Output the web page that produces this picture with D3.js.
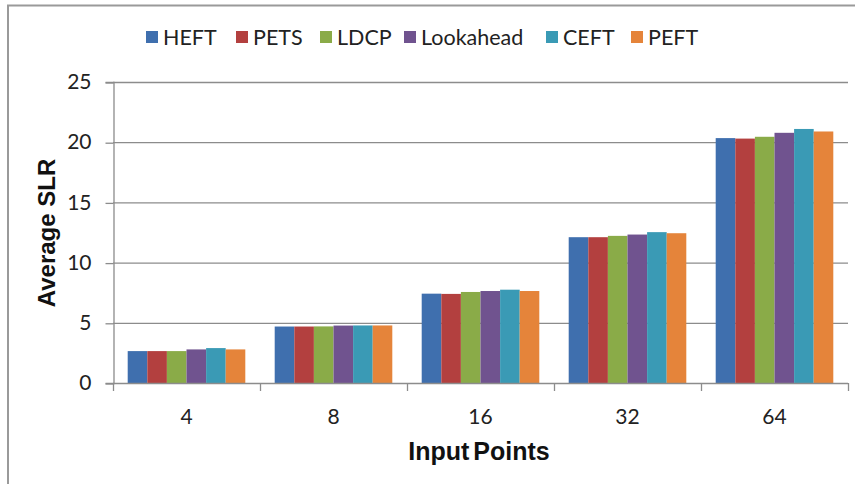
<!DOCTYPE html>
<html>
<head>
<meta charset="utf-8">
<script src="https://cdn.jsdelivr.net/npm/d3@7"></script>
<style>
  html, body { margin: 0; padding: 0; background: #fff; }
  svg { display: block; }
</style>
</head>
<body>
<svg id="chart" width="855" height="484"></svg>
<script>
// Input sizes (x categories)
const categories = ["4", "8", "16", "32", "64"];
// Scheduling algorithms
const seriesNames = ["HEFT", "PETS", "LDCP", "Lookahead", "CEFT", "PEFT"];
const seriesColors = ["#3f6fae", "#b3403f", "#8aab48", "#70538f", "#3a9ab5", "#e5843a"];
// Average SLR per algorithm, one value per category
const HEFT      = [2.65, 4.69, 7.42, 12.11, 20.34];
const PETS      = [2.65, 4.69, 7.40, 12.11, 20.30];
const LDCP      = [2.65, 4.70, 7.56, 12.22, 20.45];
const Lookahead = [2.79, 4.77, 7.64, 12.33, 20.78];
const CEFT      = [2.90, 4.78, 7.75, 12.53, 21.10];
const PEFT      = [2.79, 4.78, 7.64, 12.44, 20.89];
const seriesValues = [HEFT, PETS, LDCP, Lookahead, CEFT, PEFT];
const yTicks = [0, 5, 10, 15, 20, 25];

const svg = d3.select("#chart");
const plotLeft = 113, plotRight = 848, plotTop = 82, plotBottom = 383;
const gridColor = "#8c8c8c";
const labelFont = "Lato, 'Open Sans', sans-serif";

// Outer frame (top and left edges)
svg.append("path")
  .attr("d", "M8,484V5.5H855")
  .attr("fill", "none")
  .attr("stroke", "#9a9a9a")
  .attr("stroke-width", 2);

const x = d3.scaleBand().domain(categories).range([plotLeft, plotRight])
  .paddingInner(0.2).paddingOuter(0.1);
const xInner = d3.scaleBand().domain(seriesNames).range([0, x.bandwidth()]);
const y = d3.scaleLinear().domain([0, 25]).range([plotBottom, plotTop]);

// Horizontal gridlines
svg.append("g").selectAll("line")
  .data(yTicks.filter(d => d > 0))
  .join("line")
  .attr("x1", plotLeft).attr("x2", plotRight)
  .attr("y1", d => y(d) + 0.5).attr("y2", d => y(d) + 0.5)
  .attr("stroke", gridColor).attr("stroke-width", 1.3);

// Y axis
const yAxis = svg.append("g")
  .attr("transform", `translate(${plotLeft + 0.5},0)`)
  .call(d3.axisLeft(y).tickValues(yTicks).tickSize(8).tickPadding(14));
yAxis.select(".domain").attr("stroke", gridColor).attr("stroke-width", 1.3);
yAxis.selectAll(".tick line").attr("stroke", gridColor).attr("stroke-width", 1.3)
  .attr("transform", "translate(0,0.5)");
yAxis.selectAll(".tick text")
  .attr("font-family", labelFont).attr("font-size", 21)
  .attr("fill", "#222");

// Bars
const groups = svg.append("g").selectAll("g")
  .data(seriesNames.map((name, i) => ({ name, color: seriesColors[i], values: seriesValues[i] })))
  .join("g")
  .attr("fill", d => d.color);
groups.selectAll("rect")
  .data(d => d.values.map((v, j) => ({ name: d.name, cat: categories[j], value: v })))
  .join("rect")
  .attr("x", d => x(d.cat) + xInner(d.name))
  .attr("width", xInner.bandwidth())
  .attr("y", d => y(d.value))
  .attr("height", d => y(0) - y(d.value));

// X axis line and category boundary ticks
const step = x.step();
const boundaries = d3.range(categories.length + 1).map(i =>
  i < categories.length ? x(categories[i]) - step * x.paddingInner() / 2 : plotRight);
svg.append("line")
  .attr("x1", plotLeft).attr("x2", plotRight)
  .attr("y1", plotBottom + 0.5).attr("y2", plotBottom + 0.5)
  .attr("stroke", gridColor).attr("stroke-width", 1.3);
svg.append("g").selectAll("line")
  .data(boundaries)
  .join("line")
  .attr("x1", d => d + 0.5).attr("x2", d => d + 0.5)
  .attr("y1", plotBottom).attr("y2", plotBottom + 8)
  .attr("stroke", gridColor).attr("stroke-width", 1.3);
svg.append("g").selectAll("text")
  .data(categories)
  .join("text")
  .attr("x", d => x(d) + x.bandwidth() / 2)
  .attr("y", 424)
  .attr("text-anchor", "middle")
  .attr("font-family", labelFont).attr("font-size", 21)
  .attr("fill", "#222")
  .text(d => d);

// Axis titles
svg.append("text")
  .attr("x", 479).attr("y", 460)
  .attr("text-anchor", "middle")
  .attr("font-family", "'Liberation Sans', Arial, sans-serif")
  .attr("font-weight", "bold").attr("font-size", 25)
  .attr("word-spacing", -3)
  .attr("fill", "#111")
  .text("Input Points");
svg.append("text")
  .attr("transform", "translate(55,233) rotate(-90)")
  .attr("text-anchor", "middle")
  .attr("font-family", "'Liberation Sans', Arial, sans-serif")
  .attr("font-weight", "bold").attr("font-size", 24)
  .attr("fill", "#111")
  .text("Average SLR");

// Legend
const legendX = [146, 236, 320, 404, 546, 631];
const legend = svg.append("g").selectAll("g")
  .data(seriesNames)
  .join("g")
  .attr("transform", (d, i) => `translate(${legendX[i]},31)`);
legend.append("rect")
  .attr("width", 12).attr("height", 12)
  .attr("fill", (d, i) => seriesColors[i]);
legend.append("text")
  .attr("x", 17).attr("y", 13.5)
  .attr("font-family", labelFont).attr("font-size", 21.5)
  .attr("fill", "#222")
  .text(d => d);
</script>
</body>
</html>
